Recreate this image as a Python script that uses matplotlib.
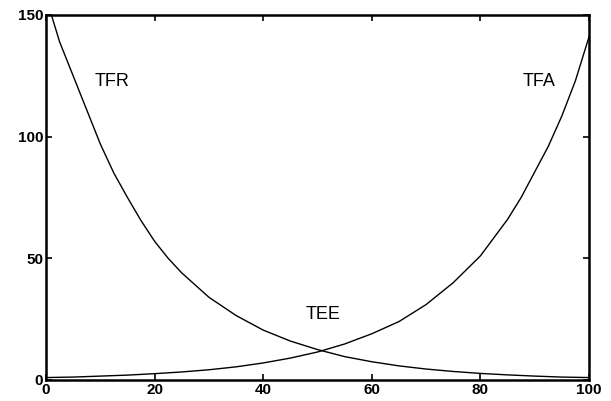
import numpy as np
import matplotlib.pyplot as plt

# values
x_tfr = [0, 1, 2.5, 5, 7.5, 10, 12.5, 15, 17.5, 20, 22.5, 25, 30, 35, 40,
         45, 50, 55, 60, 65, 70, 75, 80, 85, 90, 95, 100]
tfr = [157, 150, 139, 125, 111, 97, 85, 75, 65.5, 57, 50, 44, 34, 26.5, 20.5,
       16, 12.5, 9.6, 7.5, 5.8, 4.5, 3.5, 2.7, 2.1, 1.6, 1.2, 1.0]

x_tfa = [0, 5, 10, 15, 20, 25, 30, 35, 40, 45, 50, 55, 60, 65, 70, 75,
         80, 85, 87.5, 90, 92.5, 95, 97.5, 100]
tfa = [1.0, 1.2, 1.6, 2.0, 2.6, 3.3, 4.2, 5.4, 7.0, 9.0, 11.5, 14.8, 19, 24,
       31, 40, 51, 66, 75, 85.5, 96, 108.5, 123, 141]

labels = ['TFR', 'TFA', 'TEE']
label_x = [12.2, 90.8, 51]
label_y = [122.5, 122.5, 27]

xticks = [0, 20, 40, 60, 80, 100]
yticks = [0, 50, 100, 150]

plt.rcParams['font.family'] = ['Liberation Sans', 'DejaVu Sans']

fig = plt.figure(figsize=(6.11, 4.01), dpi=100)
ax = fig.add_axes([0.0753, 0.0524, 0.8887, 0.9102])

ax.plot(x_tfr, tfr, color='black', lw=1.0)
ax.plot(x_tfa, tfa, color='black', lw=1.0)

for s, tx, ty in zip(labels, label_x, label_y):
    ax.text(tx, ty, s, fontsize=13, ha='center', va='center', color='black')

ax.set_xlim(0, 100)
ax.set_ylim(0, 150)
ax.set_xticks(xticks)
ax.set_yticks(yticks)
ax.tick_params(direction='in', length=4, width=1.2, top=True, right=True,
               labelsize=11, pad=2)
for lab in ax.get_xticklabels() + ax.get_yticklabels():
    lab.set_fontweight('bold')
for sp in ax.spines.values():
    sp.set_linewidth(1.8)

fig.savefig('out.png', dpi=100)
